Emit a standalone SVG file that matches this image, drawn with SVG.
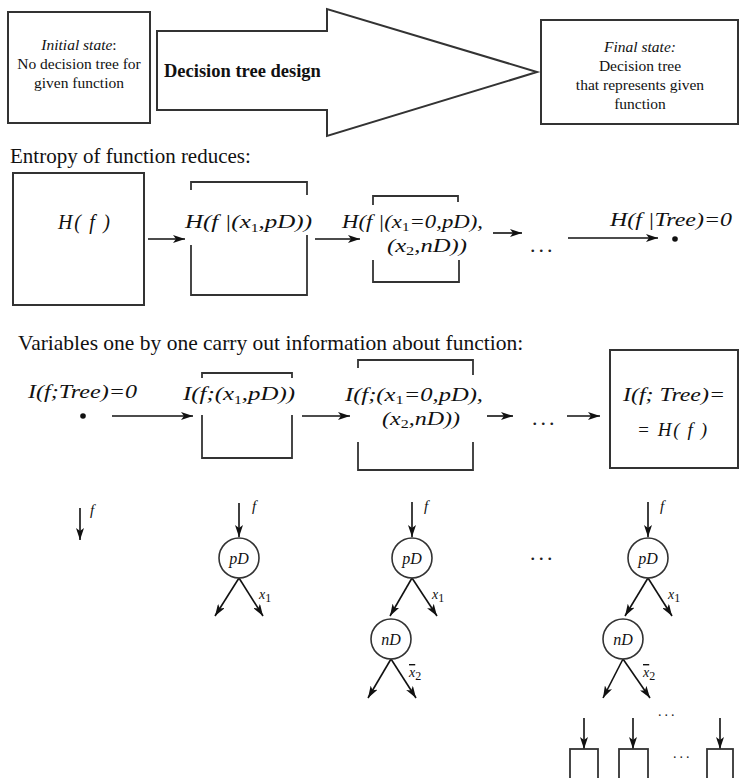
<svg xmlns="http://www.w3.org/2000/svg" width="740" height="778" viewBox="0 0 740 778">
<defs>
<marker id="ah" viewBox="0 0 12 8" refX="12" refY="4" markerWidth="12" markerHeight="8" markerUnits="userSpaceOnUse" orient="auto">
<path d="M0,0 L12,4 L0,8 L3,4 Z" fill="#111"/>
</marker>
<style>
.box{fill:none;stroke:#333;stroke-width:2}
.br{fill:none;stroke:#333;stroke-width:1.8}
.ln{fill:none;stroke:#111;stroke-width:1.6;marker-end:url(#ah)}
.t{font-family:"Liberation Serif","Times New Roman",serif;fill:#111}
.m{font-family:"Liberation Serif","Times New Roman",serif;font-style:italic;fill:#111}
.sub{font-size:12px;font-style:normal}
.dots{font-family:"Liberation Serif",serif;fill:#222;letter-spacing:3px}
</style>
</defs>

<g id="initial">
<rect class="box" x="8" y="12" width="142" height="111"/>
<text class="t" font-size="15.5" text-anchor="middle" x="79" y="50"><tspan font-style="italic">Initial state</tspan>:</text>
<text class="t" font-size="15.5" text-anchor="middle" x="79" y="69">No decision tree for</text>
<text class="t" font-size="15.5" text-anchor="middle" x="79" y="88">given function</text>
</g>

<g id="design-arrow">
<polygon points="157,31 327,31 327,9 537,72 327,136 327,110 157,110" fill="#fff" stroke="#333" stroke-width="2"/>
<text class="t" font-size="18.5" font-weight="bold" x="164" y="77">Decision tree design</text>
</g>

<g id="final">
<rect class="box" x="541" y="20" width="197" height="104"/>
<text class="t" font-size="15.5" text-anchor="middle" x="640" y="52" font-style="italic">Final state:</text>
<text class="t" font-size="15.5" text-anchor="middle" x="640" y="71">Decision tree</text>
<text class="t" font-size="15.5" text-anchor="middle" x="640" y="90">that represents given</text>
<text class="t" font-size="15.5" text-anchor="middle" x="640" y="109">function</text>
</g>

<text class="t" font-size="21" x="10" y="163">Entropy of function reduces:</text>

<g id="H0">
<rect class="box" x="13" y="173" width="131" height="132"/>
<text class="m" font-size="20" x="58" y="229" textLength="52">H( f )</text>
</g>
<g id="H1">
<path class="br" d="M191,190 V182 H307 V195 M191,245 V295 H307 V235"/>
<text class="m" font-size="19" x="185" y="228" textLength="127" lengthAdjust="spacingAndGlyphs">H(f |(x<tspan class="sub" dy="4">1</tspan><tspan dy="-4">,pD))</tspan></text>
</g>
<g id="H2">
<path class="br" d="M373,205 V196 H458 V202 M373,260 V282 H459 V260"/>
<text class="m" font-size="18" x="342" y="228" textLength="141" lengthAdjust="spacingAndGlyphs">H(f |(x<tspan class="sub" dy="3">1</tspan><tspan dy="-3">=0,pD),</tspan></text>
<text class="m" font-size="18" x="387" y="252" textLength="80" lengthAdjust="spacingAndGlyphs">(x<tspan class="sub" dy="3">2</tspan><tspan dy="-3">,nD))</tspan></text>
</g>
<text class="dots" font-size="22" x="530" y="252">...</text>
<g id="H3">
<circle cx="675" cy="239" r="2.8" fill="#111"/>
<text class="m" font-size="19" x="610" y="226" textLength="122" lengthAdjust="spacingAndGlyphs">H(f |Tree)=0</text>
</g>

<text class="t" font-size="21.5" x="18" y="350">Variables one by one carry out information about function:</text>

<g id="I0">
<text class="m" font-size="19" x="28" y="398" textLength="109" lengthAdjust="spacingAndGlyphs">I(f;Tree)=0</text>
<circle cx="83" cy="416" r="2.8" fill="#111"/>
</g>
<g id="I1">
<path class="br" d="M202,378 V373 H292 V378 M202,415 V458 H292 V415"/>
<text class="m" font-size="19" x="183" y="400" textLength="112" lengthAdjust="spacingAndGlyphs">I(f;(x<tspan class="sub" dy="4">1</tspan><tspan dy="-4">,pD))</tspan></text>
</g>
<g id="I2">
<path class="br" d="M358,368 V360 H473 V375 M358,442 V470 H473 V442"/>
<text class="m" font-size="18" x="345" y="401" textLength="138" lengthAdjust="spacingAndGlyphs">I(f;(x<tspan class="sub" dy="3">1</tspan><tspan dy="-3">=0,pD),</tspan></text>
<text class="m" font-size="18" x="382" y="425" textLength="78" lengthAdjust="spacingAndGlyphs">(x<tspan class="sub" dy="3">2</tspan><tspan dy="-3">,nD))</tspan></text>
</g>
<text class="dots" font-size="22" x="532" y="425">...</text>
<g id="I3">
<rect class="box" x="610" y="350" width="128" height="118"/>
<text class="m" font-size="19" x="623" y="401" textLength="102" lengthAdjust="spacingAndGlyphs">I(f; Tree)=</text>
<text class="m" font-size="19" x="637" y="436" textLength="70">= H( f )</text>
</g>

<g id="connectors">
<line class="ln" x1="148" y1="239" x2="185" y2="239"/>
<line class="ln" x1="315" y1="239" x2="360" y2="239"/>
<line class="ln" x1="493" y1="233" x2="522" y2="233"/>
<line class="ln" x1="568" y1="238" x2="658" y2="238"/>
<line class="ln" x1="112" y1="416" x2="193" y2="416"/>
<line class="ln" x1="302" y1="416" x2="350" y2="416"/>
<line class="ln" x1="487" y1="416" x2="513" y2="416"/>
<line class="ln" x1="567" y1="416" x2="600" y2="416"/>
<line class="ln" x1="80" y1="508" x2="80" y2="540"/>
<line class="ln" x1="239" y1="503" x2="239" y2="537"/>
<line class="ln" x1="239" y1="578" x2="215" y2="616"/>
<line class="ln" x1="239" y1="578" x2="263" y2="616"/>
<line class="ln" x1="412" y1="502" x2="412" y2="537"/>
<line class="ln" x1="412" y1="578" x2="390" y2="616"/>
<line class="ln" x1="412" y1="578" x2="437" y2="616"/>
<line class="ln" x1="391" y1="659" x2="368" y2="698"/>
<line class="ln" x1="391" y1="659" x2="416" y2="698"/>
<line class="ln" x1="648" y1="502" x2="648" y2="537"/>
<line class="ln" x1="648" y1="578" x2="625" y2="616"/>
<line class="ln" x1="648" y1="578" x2="672" y2="616"/>
<line class="ln" x1="623" y1="659" x2="603" y2="698"/>
<line class="ln" x1="623" y1="659" x2="650" y2="698"/>
<line class="ln" x1="584" y1="718" x2="584" y2="749"/>
<line class="ln" x1="633" y1="718" x2="633" y2="749"/>
<line class="ln" x1="720" y1="718" x2="720" y2="749"/>
</g>

<g id="tree1">
<text class="m" font-size="15" x="90" y="515">f</text>
</g>
<g id="tree2">
<text class="m" font-size="15" x="252" y="511">f</text>
<circle cx="239" cy="558" r="20" fill="none" stroke="#333" stroke-width="1.6"/>
<text class="m" font-size="16" text-anchor="middle" x="239" y="564">pD</text>
<text class="m" font-size="14" x="259" y="599">x<tspan class="sub" font-size="10" dy="3">1</tspan></text>
</g>
<g id="tree3">
<text class="m" font-size="15" x="424" y="511">f</text>
<circle cx="412" cy="558" r="20" fill="none" stroke="#333" stroke-width="1.6"/>
<text class="m" font-size="16" text-anchor="middle" x="412" y="564">pD</text>
<text class="m" font-size="14" x="432" y="599">x<tspan class="sub" font-size="10" dy="3">1</tspan></text>
<circle cx="391" cy="639" r="20" fill="none" stroke="#333" stroke-width="1.6"/>
<text class="m" font-size="16" text-anchor="middle" x="391" y="645">nD</text>
<text class="m" font-size="14" x="409" y="677"><tspan text-decoration="overline">x</tspan><tspan class="sub" font-size="10" dy="3">2</tspan></text>
</g>
<text class="dots" font-size="22" x="530" y="560">...</text>
<g id="tree4">
<text class="m" font-size="15" x="660" y="511">f</text>
<circle cx="648" cy="558" r="20" fill="none" stroke="#333" stroke-width="1.6"/>
<text class="m" font-size="16" text-anchor="middle" x="648" y="564">pD</text>
<text class="m" font-size="14" x="668" y="599">x<tspan class="sub" font-size="10" dy="3">1</tspan></text>
<circle cx="623" cy="639" r="20" fill="none" stroke="#333" stroke-width="1.6"/>
<text class="m" font-size="16" text-anchor="middle" x="623" y="645">nD</text>
<text class="m" font-size="14" x="643" y="677"><tspan text-decoration="overline">x</tspan><tspan class="sub" font-size="10" dy="3">2</tspan></text>
<text class="dots" font-size="14" fill="#777" x="658" y="716">...</text>
<rect class="br" x="570" y="749" width="28" height="40"/>
<rect class="br" x="619" y="749" width="29" height="40"/>
<text class="dots" font-size="14" fill="#777" x="673" y="758">...</text>
<rect class="br" x="707" y="749" width="26" height="40"/>
</g>
</svg>
